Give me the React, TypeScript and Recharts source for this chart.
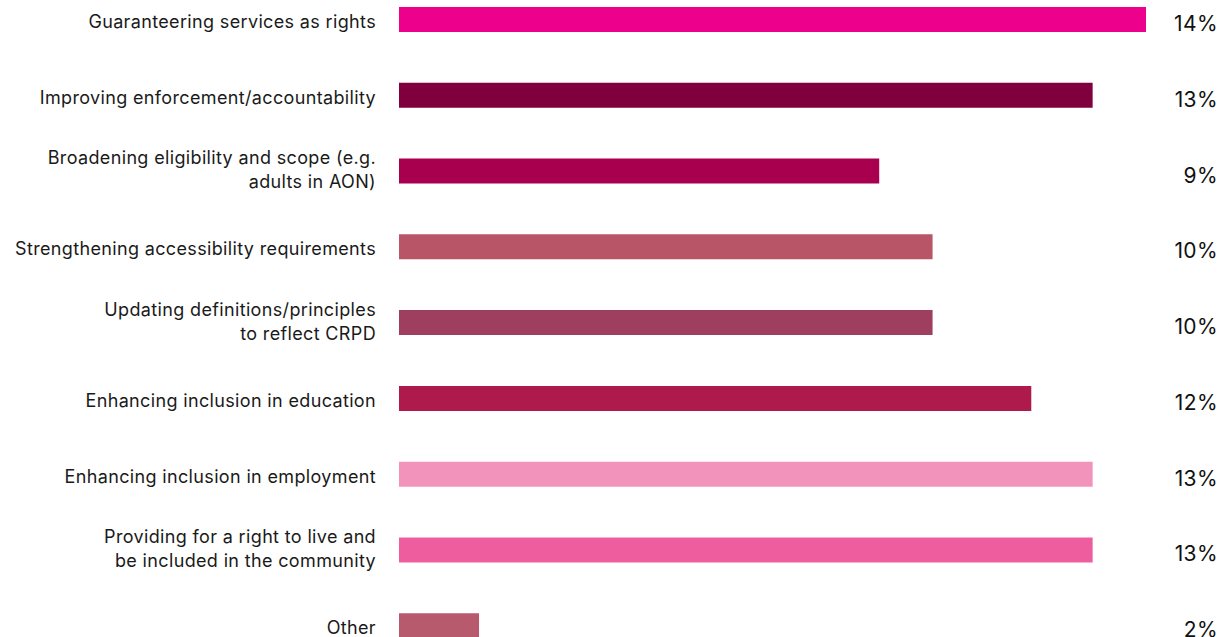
import React from "react"
import { BarChart, Bar, XAxis, YAxis, Cell, LabelList } from "recharts"

const categories = [
  "Guaranteering services as rights",
  "Improving enforcement/accountability",
  "Broadening eligibility and scope (e.g.\nadults in AON)",
  "Strengthening accessibility requirements",
  "Updating definitions/principles\nto reflect CRPD",
  "Enhancing inclusion in education",
  "Enhancing inclusion in employment",
  "Providing for a right to live and\nbe included in the community",
  "Other",
]

const values = [14, 13, 9, 10, 10, 11.85, 13, 13, 1.5]

const colors = [
  "#EC008C",
  "#80003E",
  "#A8004E",
  "#B85567",
  "#9E3F60",
  "#AD1A4B",
  "#F293BC",
  "#EE5E9E",
  "#B85A6D",
]

const data = categories.map((name, i) => ({ name, value: values[i] }))

const FONT = "Inter, 'Noto Sans', sans-serif"

function CategoryTick(props: any) {
  const { x, y, payload } = props
  const lines = String(payload.value).split("\n")
  const lh = 24
  const start = lines.length > 1 ? -((lines.length - 1) * lh) / 2 - 2 : 1
  return (
    <text
      x={x}
      y={y}
      textAnchor="end"
      dominantBaseline="central"
      fontFamily={FONT}
      fontSize={18}
      letterSpacing={0.35}
      fill="#1a1a1a"
    >
      {lines.map((line, i) => (
        <tspan key={i} x={x} y={y + start + i * lh}>
          {line}
        </tspan>
      ))}
    </text>
  )
}

function ValueLabel(props: any) {
  const { y, height, value } = props
  return (
    <text
      x={1218}
      y={y + height / 2 + 4}
      textAnchor="end"
      dominantBaseline="central"
      fontFamily={FONT}
      fontSize={21}
      letterSpacing={0.4}
      fill="#111"
    >
      {Math.round(value)}%
    </text>
  )
}

export default function App() {
  return (
    <div style={{ position: "absolute", left: 0, top: -18 }}>
      <BarChart
        width={1221}
        height={682}
        data={data}
        layout="vertical"
        margin={{ top: 0, right: 75, bottom: 0, left: 0 }}
      >
        <XAxis type="number" domain={[0, 14]} hide />
        <YAxis
          type="category"
          dataKey="name"
          width={399}
          axisLine={false}
          tickLine={false}
          tickSize={0}
          tickMargin={23}
          tick={<CategoryTick />}
          interval={0}
        />
        <Bar dataKey="value" barSize={25} isAnimationActive={false}>
          {data.map((_, i) => (
            <Cell key={i} fill={colors[i]} />
          ))}
          <LabelList dataKey="value" content={<ValueLabel />} />
        </Bar>
      </BarChart>
    </div>
  )
}
